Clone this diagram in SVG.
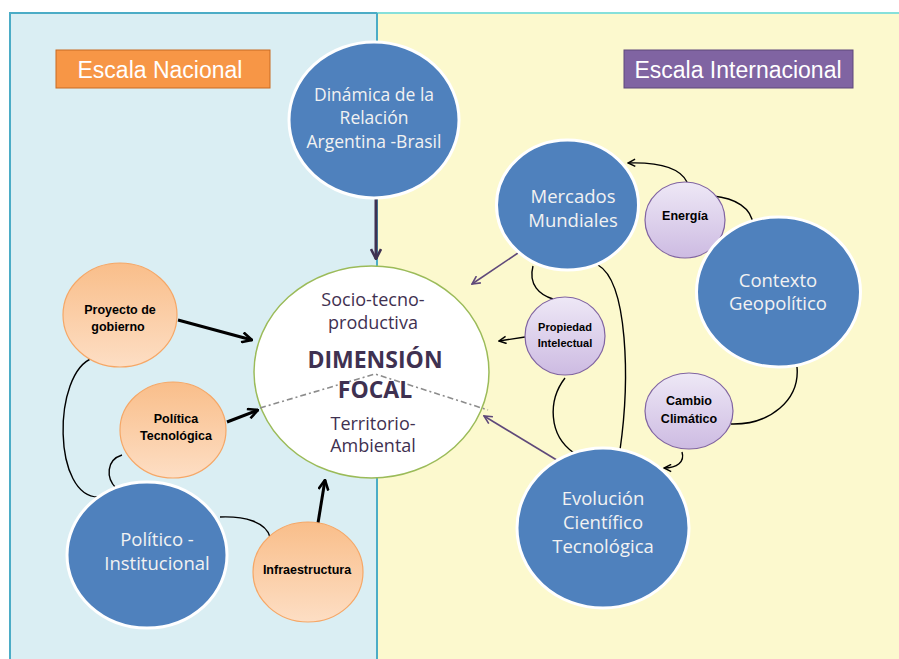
<svg xmlns="http://www.w3.org/2000/svg" width="899" height="659" viewBox="0 0 899 659">
<defs>
<linearGradient id="gOr" x1="0" y1="0" x2="0" y2="1"><stop offset="0" stop-color="#F9BE8A"/><stop offset="1" stop-color="#FDDEC4"/></linearGradient>
<linearGradient id="gPu" x1="0" y1="0" x2="0" y2="1"><stop offset="0" stop-color="#EEE8F6"/><stop offset="1" stop-color="#CDBBE2"/></linearGradient>
<marker id="ahT" viewBox="0 0 12 12" refX="11" refY="6" markerWidth="12" markerHeight="12" orient="auto" markerUnits="userSpaceOnUse"><path d="M1,1 L11,6 L1,11" fill="none" stroke="#000" stroke-width="2.6"/></marker>
<marker id="ahP" viewBox="0 0 12 12" refX="11" refY="6" markerWidth="12" markerHeight="12" orient="auto" markerUnits="userSpaceOnUse"><path d="M1,1 L11,6 L1,11" fill="none" stroke="#3F3151" stroke-width="2.6"/></marker>
<marker id="ahp" viewBox="0 0 10 10" refX="9" refY="5" markerWidth="10" markerHeight="10" orient="auto" markerUnits="userSpaceOnUse"><path d="M1,1 L9,5 L1,9" fill="none" stroke="#5F497A" stroke-width="1.6"/></marker>
<marker id="ahk" viewBox="0 0 10 10" refX="9" refY="5" markerWidth="9" markerHeight="9" orient="auto" markerUnits="userSpaceOnUse"><path d="M1,1 L9,5 L1,9" fill="none" stroke="#000" stroke-width="1.6"/></marker>
</defs>
<style>
.big{fill:#4F81BD;stroke:#fff;stroke-width:3}
.or{fill:url(#gOr);stroke:#F6A766;stroke-width:1.2}
.pu{fill:url(#gPu);stroke:#8064A2;stroke-width:1.2}
.tb{font-family:"Open Sans","Liberation Sans",sans-serif;font-size:18.5px;fill:#F2F2F2;text-anchor:middle}
.ts{font-family:"Liberation Sans",Arial,sans-serif;font-size:12.5px;font-weight:bold;fill:#000;text-anchor:middle}
.tf{font-family:"Open Sans","Liberation Sans",sans-serif;font-size:18px;fill:#3F3151;text-anchor:middle}
.tfb{font-family:"Open Sans","Liberation Sans",sans-serif;font-size:23px;font-weight:bold;fill:#3F3151;text-anchor:middle}
.tl{font-family:"Liberation Sans",Arial,sans-serif;font-size:23px;fill:#fff;text-anchor:middle}
.thin{fill:none;stroke:#000;stroke-width:1.4}
.thick{fill:none;stroke:#000;stroke-width:3}
.purp{fill:none;stroke:#5F497A;stroke-width:1.6}
</style>
<rect x="0" y="0" width="899" height="659" fill="#fff"/>
<rect id="panelL" x="10" y="13" width="367" height="650" fill="#DAEEF3" stroke="#4BACC6" stroke-width="2"/>
<rect id="panelR" x="377" y="13" width="524" height="650" fill="#FCF9CE"/>
<line x1="377" y1="13" x2="899" y2="13" stroke="#86E0DA" stroke-width="2"/>
<line x1="377" y1="13" x2="377" y2="659" stroke="#4BACC6" stroke-width="2"/>

<g id="label-nacional"><rect x="56" y="50" width="214" height="38" fill="#F79646" stroke="#C86A22" stroke-width="1"/><text class="tl" x="160" y="78">Escala Nacional</text></g>
<g id="label-internacional"><rect x="624" y="50" width="229" height="38" fill="#8064A2" stroke="#5F497A" stroke-width="1"/><text class="tl" x="738" y="78">Escala Internacional</text></g>

<g id="connectors">
<path class="thick" d="M178,320 L252,340" marker-end="url(#ahT)"/>
<path class="thick" d="M227,422 L258,410" marker-end="url(#ahT)"/>
<path class="thick" d="M318,523 L325,480" marker-end="url(#ahT)"/>
<path d="M376,197 L376,259" fill="none" stroke="#3F3151" stroke-width="3" marker-end="url(#ahP)"/>
<path class="thin" d="M93,358 C52,372 52,500 100,497"/>
<path class="thin" d="M122,455 C106,460 106,478 116,488"/>
<path class="thin" d="M220,517 C245,516 266,522 270,537"/>
<path class="purp" d="M518,253 L472,284" marker-end="url(#ahp)"/>
<path class="purp" d="M560,462 L484,416" marker-end="url(#ahp)"/>
<path class="thin" d="M525,337 L499,341" marker-end="url(#ahk)"/>
<path class="thin" d="M533,266 C528,285 540,295 553,299"/>
<path class="thin" d="M598,265 C628,282 630,380 620,450"/>
<path class="thin" d="M565,378 C548,400 548,435 574,453"/>
<path class="thin" d="M687,182 C680,168 660,162 628,163" marker-end="url(#ahk)"/>
<path class="thin" d="M713,196 C735,198 752,208 753,225"/>
<path class="thin" d="M797,367 C800,400 770,425 731,424"/>
<path class="thin" d="M682,452 C685,462 677,468 664,468" marker-end="url(#ahk)"/>
</g>

<g id="dinamica"><ellipse class="big" cx="374" cy="120" rx="85" ry="78"/><text class="tb" x="374" y="101" style="font-size:17.5px">Dinámica de la</text><text class="tb" x="374" y="124" style="font-size:17.5px">Relación</text><text class="tb" x="374" y="148" style="font-size:17.5px">Argentina -Brasil</text></g>

<g id="focal"><ellipse cx="371.5" cy="372" rx="117.5" ry="106" fill="#fff" stroke="#9BBB59" stroke-width="1.5"/>
<path d="M260,408 L375,374 L488,410" fill="none" stroke="#8C8C8C" stroke-width="1.6" stroke-dasharray="6 3 2 3"/>
<text class="tf" x="373" y="306">Socio-tecno-</text><text class="tf" x="373" y="329">productiva</text>
<text class="tfb" x="375" y="368">DIMENSIÓN</text><text class="tfb" x="375" y="398">FOCAL</text>
<text class="tf" x="373" y="430">Territorio-</text><text class="tf" x="373" y="452">Ambiental</text></g>

<g id="proyecto"><ellipse class="or" cx="120" cy="315" rx="57" ry="52"/><text class="ts" x="120" y="314">Proyecto de</text><text class="ts" x="118" y="331">gobierno</text></g>
<g id="politica-tec"><ellipse class="or" cx="173" cy="430" rx="53" ry="48"/><text class="ts" x="176" y="423">Política</text><text class="ts" x="176" y="440">Tecnológica</text></g>
<g id="politico-inst"><ellipse class="big" cx="147" cy="555" rx="80" ry="73"/><text class="tb" x="157" y="546">Político -</text><text class="tb" x="157" y="570">Institucional</text></g>
<g id="infraestructura"><ellipse class="or" cx="308" cy="572" rx="55" ry="50"/><text class="ts" x="307" y="574">Infraestructura</text></g>

<g id="mercados"><ellipse class="big" cx="567.5" cy="205" rx="71" ry="65"/><text class="tb" x="573" y="203">Mercados</text><text class="tb" x="573" y="227">Mundiales</text></g>
<g id="energia"><ellipse class="pu" cx="685" cy="220" rx="40" ry="38"/><text class="ts" x="685" y="220">Energía</text></g>
<g id="contexto"><ellipse class="big" cx="778.5" cy="292" rx="82" ry="75"/><text class="tb" x="778" y="287">Contexto</text><text class="tb" x="778" y="310">Geopolítico</text></g>
<g id="propiedad"><ellipse class="pu" cx="565" cy="336" rx="40" ry="39"/><text class="ts" x="565" y="331" style="font-size:11px">Propiedad</text><text class="ts" x="565" y="347" style="font-size:11px">Intelectual</text></g>
<g id="cambio"><ellipse class="pu" cx="689" cy="411" rx="44" ry="38"/><text class="ts" x="689" y="405">Cambio</text><text class="ts" x="689" y="423">Climático</text></g>
<g id="evolucion"><ellipse class="big" cx="603" cy="528" rx="86" ry="80"/><text class="tb" x="603" y="505">Evolución</text><text class="tb" x="603" y="529">Científico</text><text class="tb" x="603" y="553">Tecnológica</text></g>
</svg>
